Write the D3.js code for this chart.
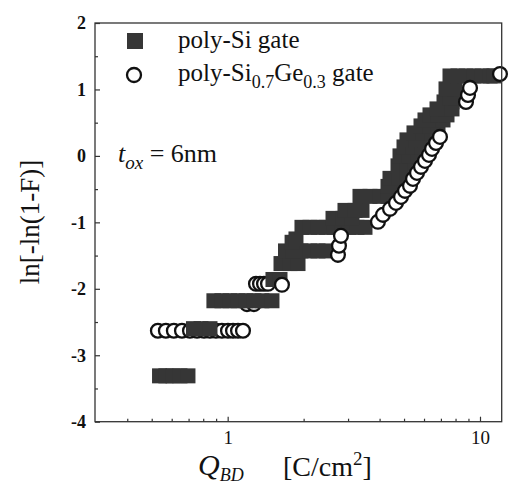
<!DOCTYPE html>
<html><head><meta charset="utf-8">
<script src="https://cdn.jsdelivr.net/npm/d3@7"></script>
<style>body{margin:0;background:#fff}</style>
</head><body>
<svg id="c" width="510" height="487"></svg>
<script>
// ---- data (Q_BD in C/cm^2, Weibull ln[-ln(1-F)]) ----
const polySiQ = [
  0.537,0.569,0.607,0.647,0.696,
  0.732,0.784,0.851,
  0.882,0.949,1.021,1.099,1.182,1.271,1.367,1.498,
  1.512,1.612,
  1.627,1.766,1.900,
  1.695,1.815,1.951,2.120,2.280,2.453,
  1.800,1.865,
  1.970,2.120,2.280,2.453,2.638,2.838,3.026,3.254,3.501,
  2.615,2.864,3.109,
  2.917,3.196,3.407,
  3.345,3.665,4.014,4.319,
  4.319,4.689,4.998,
  4.398,4.775,5.136,
  4.732,5.136,5.525,
  4.819,5.231,5.679,
  4.998,5.425,5.890,
  5.136,5.576,6.053,
  5.475,5.944,6.452,
  5.837,6.336,6.817,
  6.053,6.572,7.135,
  6.336,6.817,7.400,
  6.755,7.266,7.745,
  7.200,7.745,
  7.605,8.032,
  7.333,7.959,
  7.605,8.180,8.801,9.467,10.18,10.96,11.36
];
const polySiW = [
  -3.31,-3.31,-3.31,-3.31,-3.31,
  -2.60,-2.60,-2.60,
  -2.18,-2.18,-2.18,-2.18,-2.18,-2.18,-2.18,-2.18,
  -1.86,-1.86,
  -1.62,-1.62,-1.62,
  -1.43,-1.43,-1.43,-1.43,-1.43,-1.43,
  -1.30,-1.25,
  -1.075,-1.075,-1.075,-1.075,-1.075,-1.075,-1.075,-1.075,-1.075,
  -0.94,-0.94,-0.94,
  -0.82,-0.82,-0.82,
  -0.609,-0.609,-0.609,-0.609,
  -0.459,-0.459,-0.459,
  -0.338,-0.338,-0.338,
  -0.15,-0.15,-0.15,
  0.0,0.0,0.0,
  0.135,0.135,0.135,
  0.241,0.241,0.241,
  0.346,0.346,0.346,
  0.451,0.451,0.451,
  0.541,0.541,0.541,
  0.617,0.617,0.617,
  0.707,0.707,0.707,
  0.812,0.812,
  0.872,0.872,
  1.008,1.008,
  1.203,1.203,1.203,1.203,1.203,1.203,1.203
];
// poly-Si0.7Ge0.3 gate, lower group (drawn beneath squares)
const sigeLowQ = [0.529,0.569,0.612,0.659,0.709,0.756,0.806,0.851,0.899,0.949,1.003,1.050,1.099,1.150,
  1.193,1.271, 1.295,1.343,1.393,1.445];
const sigeLowW = [-2.632,-2.632,-2.632,-2.632,-2.632,-2.632,-2.632,-2.632,-2.632,-2.632,-2.632,-2.632,-2.632,-2.632,
  -2.23,-2.23, -1.925,-1.925,-1.925,-1.925];
// upper group (drawn above squares)
const sigeHighQ = [1.641, 2.736,2.761,2.812,
  3.941,4.126,4.398,4.646,4.863,5.044,5.279,5.426,5.627,5.836,6.053,6.278,6.454,6.694,6.941,
  8.800,8.962,9.128,12.0];
const sigeHighW = [-1.94, -1.489,-1.353,-1.203,
  -0.992,-0.887,-0.797,-0.707,-0.617,-0.526,-0.451,-0.346,-0.256,-0.165,-0.075,0.015,0.105,0.195,0.286,
  0.812,0.917,1.023,1.233];

const xMajor = [1, 10];
const xMinor = [0.4,0.5,0.6,0.7,0.8,0.9,2,3,4,5,6,7,8,9];
const yMajor = [-4,-3,-2,-1,0,1,2];
const yMinor = [-3.5,-2.5,-1.5,-0.5,0.5,1.5];

// ---- drawing ----
const svg = d3.select("#c");
const serif = "'Liberation Serif','Times New Roman',serif";
const L = 95, R = 501.7, T = 23, B = 421.7;
const x = d3.scaleLog().domain([0.298, 12.19]).range([L, R]);
const y = d3.scaleLinear().domain([-4, 2]).range([B, T]);
const ink = "#333";

const plot = svg.append("g");
const sq = 15, cr = 6.9;
function circles(qs, ws) {
  plot.append("g").selectAll("circle").data(qs.map((q,i)=>[q,ws[i]])).join("circle")
    .attr("cx", d=>x(d[0])).attr("cy", d=>y(d[1])).attr("r", cr)
    .attr("fill", "#fff").attr("stroke", "#111").attr("stroke-width", 2.3);
}
circles(sigeLowQ, sigeLowW);
plot.append("g").selectAll("rect").data(polySiQ.map((q,i)=>[q,polySiW[i]])).join("rect")
  .attr("x", d=>x(d[0])-sq/2).attr("y", d=>y(d[1])-sq/2).attr("width", sq).attr("height", sq)
  .attr("fill", "#363636");
circles(sigeHighQ, sigeHighW);

// frame
svg.append("rect").attr("x", L).attr("y", T).attr("width", R-L).attr("height", B-T)
  .attr("fill", "none").attr("stroke", ink).attr("stroke-width", 1.3);

// axes
const gx = svg.append("g").attr("transform", `translate(0,${B})`)
  .call(d3.axisBottom(x).tickValues(xMajor).tickSize(-5).tickPadding(9).tickFormat(d=>String(d)));
svg.append("g").attr("transform", `translate(0,${B})`)
  .call(d3.axisBottom(x).tickValues(xMinor).tickSize(-3).tickFormat(""));
const gy = svg.append("g").attr("transform", `translate(${L},0)`)
  .call(d3.axisLeft(y).tickValues(yMajor).tickSize(-5).tickPadding(9).tickFormat(d=>String(d)));
svg.append("g").attr("transform", `translate(${L},0)`)
  .call(d3.axisLeft(y).tickValues(yMinor).tickSize(-3).tickFormat(""));
svg.selectAll(".domain").remove();
svg.selectAll(".tick line").attr("stroke", ink).attr("stroke-width", 1.2);
gx.selectAll("text").attr("font-family", serif).attr("font-size", 19).attr("fill", "#111");
gy.selectAll("text").attr("font-family", serif).attr("font-size", 18).attr("font-weight", "bold").attr("fill", "#111");

// legend
svg.append("rect").attr("x", 127).attr("y", 33).attr("width", 16).attr("height", 16).attr("fill", "#363636");
svg.append("text").attr("x", 178).attr("y", 48).attr("font-family", serif).attr("font-size", 25)
  .attr("fill", "#111").text("poly-Si gate");
svg.append("circle").attr("cx", 134).attr("cy", 75).attr("r", 7).attr("fill", "#fff")
  .attr("stroke", "#111").attr("stroke-width", 2.3);
const t2 = svg.append("text").attr("x", 178).attr("y", 81).attr("font-family", serif).attr("font-size", 25).attr("fill", "#111");
t2.append("tspan").text("poly-Si");
t2.append("tspan").attr("font-size", 18).attr("dy", 7).text("0.7");
t2.append("tspan").attr("dy", -7).text("Ge");
t2.append("tspan").attr("font-size", 18).attr("dy", 7).text("0.3");
t2.append("tspan").attr("dy", -7).text(" gate");

// t_ox annotation
const t3 = svg.append("text").attr("x", 118).attr("y", 162).attr("font-family", serif).attr("font-size", 26).attr("fill", "#111");
t3.append("tspan").attr("font-style", "italic").text("t");
t3.append("tspan").attr("font-style", "italic").attr("font-size", 19).attr("dy", 7).text("ox");
t3.append("tspan").attr("dy", -7).text(" = 6nm");

// x label
const xl = svg.append("text").attr("x", 198).attr("y", 475).attr("font-family", serif).attr("font-size", 30).attr("fill", "#111");
xl.append("tspan").attr("font-style", "italic").text("Q");
xl.append("tspan").attr("font-style", "italic").attr("font-size", 18).attr("dy", 6).text("BD");
const xl2 = svg.append("text").attr("x", 283).attr("y", 476).attr("font-family", serif).attr("font-size", 28).attr("fill", "#111");
xl2.append("tspan").text("[C/cm");
xl2.append("tspan").attr("font-size", 19).attr("dy", -11).text("2");
xl2.append("tspan").attr("dy", 11).text("]");

// y label
svg.append("text").attr("transform", "translate(39,222) rotate(-90)").attr("text-anchor", "middle")
  .attr("font-family", serif).attr("font-size", 27).attr("fill", "#111").text("ln[-ln(1-F)]");
</script>
</body></html>
